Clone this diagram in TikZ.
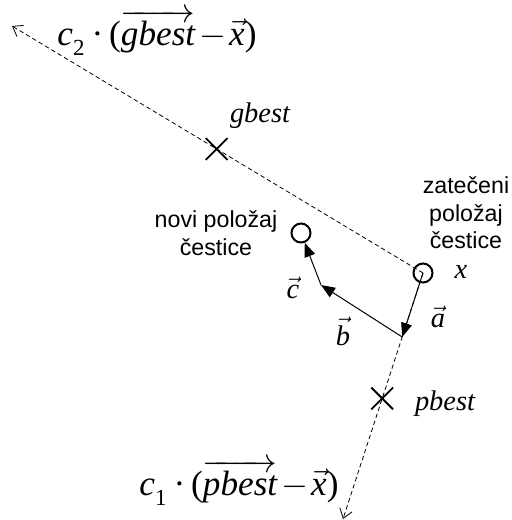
\documentclass[tikz,border=0pt]{standalone}
\usepackage{fontspec}
\setmainfont{Liberation Serif}
\newfontfamily\notefont{Liberation Sans}
\usetikzlibrary{arrows.meta,calc,shapes.misc}
\newcommand{\tv}[1]{{\itshape #1}}
\newcommand{\lowidx}[1]{\raisebox{-0.3em}{\fontsize{11.5}{11.5}\selectfont #1}}
\newcommand{\vlet}[1]{\ensuremath{\vec{\hbox{\tv{#1}}}}}
\newcommand{\vword}[1]{\ensuremath{\overrightarrow{\hbox{\raisebox{0pt}[0.7em][0pt]{\tv{#1}}}}}}
\newcommand{\dotsep}{\kern3.5pt·\kern3pt}
\newcommand{\minsep}{\kern2pt$-$\kern1.5pt}

\begin{document}
\begin{tikzpicture}[x=0.5pt,y=-0.5pt,
    particle/.style={draw,circle,line width=1pt,minimum size=9.5pt,inner sep=0pt},
    bestmark/.style={draw,cross out,line width=0.9pt,minimum size=10pt,inner sep=0pt},
    trail/.style={dashed,dash pattern=on 2.2pt off 1.5pt,line width=0.4pt,
      -{Straight Barb[length=4.5pt,width=6.5pt,line width=0.4pt]}},
    vec/.style={line width=0.5pt,-{Triangle[length=7pt,width=5.5pt]}},
    note/.style={font=\notefont\fontsize{11.6}{13.8}\selectfont,align=center},
    big/.style={font=\fontsize{17.6}{20}\selectfont,anchor=base west,inner sep=0pt},
    lbl/.style={font=\fontsize{14.2}{16}\selectfont,anchor=base}]
  \useasboundingbox (0,0) rectangle (511,520);
  % particle positions
  \node[particle] (x) at (423,273) {};
  \node[particle] (new) at (301,233) {};
  \coordinate (gtip) at (12,26);
  \coordinate (ptip) at (343,519);
  \node[bestmark] (gbest) at ($(x)!0.502!(gtip)$) {};
  \node[bestmark] (pbest) at ($(x)!0.51!(ptip)$) {};
  \coordinate (aend) at ($(x)!0.26!(ptip)$);
  \coordinate (bend) at (321,285);
  % directions
  \draw[trail] (x.center) -- (gtip);
  \draw[trail] (x.center) -- (ptip);
  \draw[vec] (x.center) -- (aend);
  \draw[vec] (aend) -- (bend);
  \draw[vec] (bend) -- (new);
  % labels
  \node[big] (c2lbl) at (57,45) {\tv{c}\lowidx{2}\dotsep(\vword{gbest}\minsep\vlet{x})};
  \node[big] (c1lbl) at (139,495) {\tv{c}\lowidx{1}\dotsep(\vword{pbest}\minsep\vlet{x})};
  \node[lbl] (glbl) at (260,122) {\tv{gbest}};
  \node[lbl] (plbl) at (445,410) {\tv{pbest}};
  \node[lbl] (xlbl) at (461,278) {\tv{x}};
  \node[lbl] (albl) at (438,327) {\vlet{a}};
  \node[lbl] (blbl) at (343,345) {\vlet{b}};
  \node[lbl] (clbl) at (293,298) {\vlet{c}};
  \node[note] (oldlbl) at (466,213) {zatečeni\\položaj\\čestice};
  \node[note] (newlbl) at (216,233) {novi položaj\\čestice};
\end{tikzpicture}
\end{document}
